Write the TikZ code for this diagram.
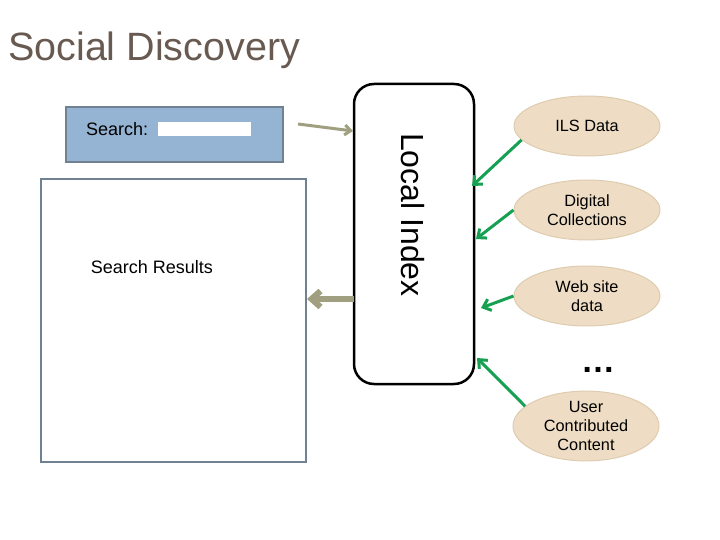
\documentclass[tikz,border=0pt]{standalone}
\usepackage{fontspec}
\setmainfont{Liberation Sans}
\usetikzlibrary{shapes.geometric,arrows.meta}
\definecolor{titlec}{RGB}{104,90,80}
\definecolor{searchfill}{RGB}{149,179,210}
\definecolor{boxedge}{RGB}{112,130,145}
\definecolor{olive}{RGB}{160,160,128}
\definecolor{tan}{RGB}{238,221,196}
\definecolor{tanedge}{RGB}{222,204,176}
\definecolor{grn}{RGB}{22,160,82}
\tikzset{
  src/.style={ellipse, fill=tan, draw=tanedge, line width=1pt, minimum width=146pt, minimum height=60pt, align=center, font=\fontsize{16.3}{19}\selectfont, inner sep=0pt},
  garrow/.style={draw=grn, line width=3pt, -{Straight Barb[length=7pt,width=12pt]}},
  oarrow/.style={draw=olive, -{Straight Barb[length=6pt,width=10pt]}}
}
\begin{document}
\begin{tikzpicture}[x=1pt,y=-1pt]
\useasboundingbox (0,0) rectangle (720,540);
\node[anchor=west, text=titlec, font=\fontsize{39.5}{42}\selectfont, inner sep=0pt] (title) at (8,50) {Social Discovery};
\node[draw=boxedge, line width=2pt, fill=searchfill, minimum width=217pt, minimum height=55pt, inner sep=0pt] (search) at (174.5,134.5) {};
\node[anchor=west, font=\fontsize{18}{20}\selectfont, inner sep=0pt] (slabel) at (86,129) {Search:};
\node[fill=white, minimum width=93pt, minimum height=14pt, inner sep=0pt] (field) at (204.5,129) {};
\node[draw=boxedge, line width=2pt, fill=white, minimum width=265pt, minimum height=283pt, inner sep=0pt] (results) at (173.5,320.5) {};
\node[font=\fontsize{18}{20}\selectfont, inner sep=0pt] (rlabel) at (152,267) {Search Results};
\node[draw=black, line width=2.5pt, rounded corners=20pt, minimum width=120pt, minimum height=300pt, inner sep=0pt] (index) at (414,234) {};
\node[rotate=-90, font=\fontsize{32}{34}\selectfont, inner sep=0pt] (ilabel) at (413,215) {Local Index};
\node[src] (ils) at (587,126) {ILS Data};
\node[src] (dig) at (587,210) {Digital\\Collections};
\node[src] (web) at (587,296) {Web site\\data};
\node[src] (user) at (586,426) {User\\Contributed\\Content};
\node[font=\bfseries\fontsize{34}{36}\selectfont, inner sep=0pt] (dots) at (598,370) {\ldots};
\coordinate (a1) at (298,124);
\coordinate (a1e) at (353,131);
\draw[oarrow, line width=3pt] (a1) -- (a1e);
\coordinate (a2s) at (354,299);
\draw[oarrow, line width=6pt, -{Straight Barb[length=9pt,width=16pt]}] (a2s) -- (results.east |- a2s);
\coordinate (g1) at (472,186);
\coordinate (g2) at (476,239);
\coordinate (g3) at (481,308);
\coordinate (g4) at (477,358);
\draw[garrow] (ils.192) -- (g1);
\draw[garrow] (dig.west) -- (g2);
\draw[garrow] (web.west) -- (g3);
\draw[garrow] (user.162) -- (g4);
\end{tikzpicture}
\end{document}
